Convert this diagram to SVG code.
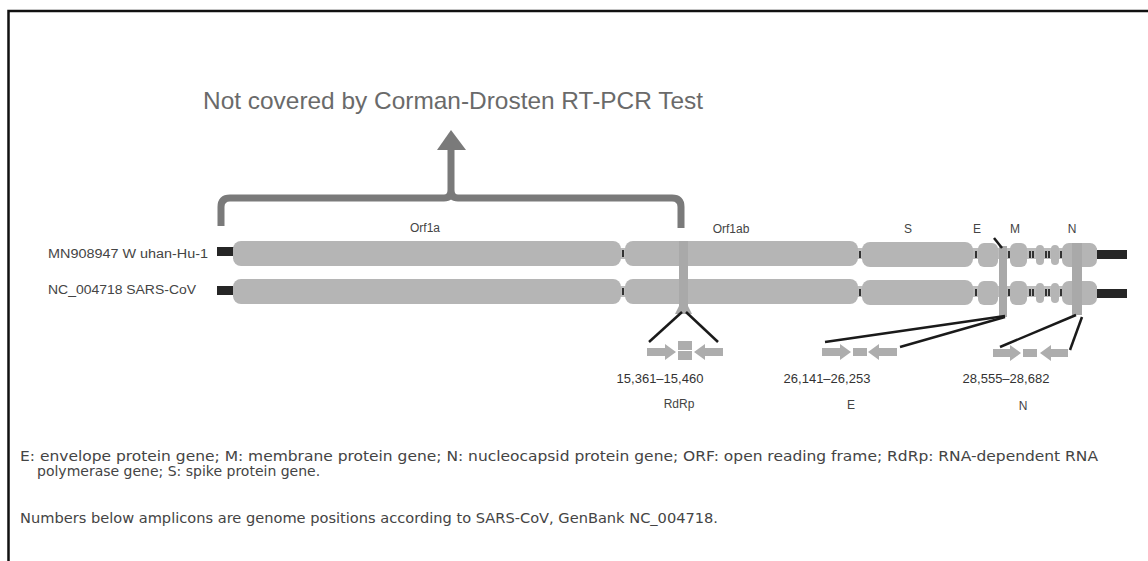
<svg xmlns="http://www.w3.org/2000/svg" width="1148" height="561" viewBox="0 0 1148 561">
<defs>
<style>
.t{font-family:"Liberation Sans",Arial,sans-serif;fill:#555}
.title{font-size:24px;fill:#6a6a6a}
.lab{font-size:12px;fill:#444}
.num{font-size:13px;fill:#333}
.foot{font-family:"DejaVu Sans","Liberation Sans",sans-serif;font-size:14px;fill:#444}
.blk{fill:#b5b5b5}
.band{fill:#bdbdbd}
.stub{fill:#262626}
.notch{stroke:#333;stroke-width:2}
.amp{fill:#a9a9a9}
.prim{fill:#adadad}
.conn{stroke:#1a1a1a;stroke-width:2.5;fill:none}
.brk{stroke:#7a7a7a;stroke-width:7;fill:none;stroke-linejoin:round}
</style>
</defs>
<rect width="1148" height="561" fill="#ffffff"/>
<g id="frame"><path d="M8.5 561 V11 H1148" fill="none" stroke="#111" stroke-width="2.5"/></g>

<g id="title"><text class="t title" x="203" y="109" textLength="500" lengthAdjust="spacingAndGlyphs">Not covered by Corman-Drosten RT-PCR Test</text></g>

<g id="bracket">
<path class="brk" d="M221 226 V207 Q221 198 230 198 H444 Q451 198 451 190 V150 M451 190 Q451 198 458 198 H672 Q681 198 681 207 V228"/>
<polygon points="437,150 451,130 466,150" fill="#7a7a7a"/>
</g>

<g id="gene-labels">
<text class="t lab" x="425" y="232" text-anchor="middle">Orf1a</text>
<text class="t lab" x="731" y="233" text-anchor="middle">Orf1ab</text>
<text class="t lab" x="908" y="233" text-anchor="middle">S</text>
<text class="t lab" x="977" y="233" text-anchor="middle">E</text>
<text class="t lab" x="1015" y="233" text-anchor="middle">M</text>
<text class="t lab" x="1072" y="233" text-anchor="middle">N</text>
</g>

<g id="row-wuhan">
<text class="t lab" x="48" y="258" textLength="160" lengthAdjust="spacingAndGlyphs">MN908947 W uhan-Hu-1</text>
<rect class="stub" x="217" y="247" width="17" height="9"/>
<rect class="band" x="233" y="248" width="864" height="11"/>
<rect class="blk" x="233" y="241" width="388" height="25" rx="8"/>
<rect class="blk" x="625" y="241" width="233" height="25" rx="8"/>
<rect class="blk" x="862" y="242" width="111" height="25" rx="8"/>
<rect class="blk" x="978" y="243" width="20" height="24" rx="6"/>
<rect class="blk" x="1010" y="243" width="17" height="24" rx="6"/>
<rect class="blk" x="1036" y="245" width="8" height="20" rx="4"/>
<rect class="blk" x="1051" y="245" width="8" height="20" rx="4"/>
<rect class="blk" x="1062" y="243" width="35" height="24" rx="7"/>
<rect class="stub" x="1097" y="250" width="30" height="9"/>
<g class="notch">
<line x1="623" y1="250" x2="623" y2="257"/><line x1="860" y1="251" x2="860" y2="258"/>
<line x1="976" y1="251" x2="976" y2="258"/><line x1="1009" y1="251" x2="1009" y2="258"/>
<line x1="1030" y1="251" x2="1030" y2="258"/><line x1="1033" y1="251" x2="1033" y2="258"/>
<line x1="1046" y1="251" x2="1046" y2="258"/><line x1="1049" y1="251" x2="1049" y2="258"/>
<line x1="1061" y1="251" x2="1061" y2="258"/>
</g>
</g>

<g id="row-sars">
<text class="t lab" x="48" y="294" textLength="148" lengthAdjust="spacingAndGlyphs">NC_004718 SARS-CoV</text>
<rect class="stub" x="217" y="286" width="17" height="9"/>
<rect class="band" x="233" y="286" width="864" height="11"/>
<rect class="blk" x="233" y="279" width="388" height="25" rx="8"/>
<rect class="blk" x="625" y="279" width="233" height="25" rx="8"/>
<rect class="blk" x="862" y="280" width="111" height="25" rx="8"/>
<rect class="blk" x="978" y="281" width="20" height="24" rx="6"/>
<rect class="blk" x="1010" y="281" width="17" height="24" rx="6"/>
<rect class="blk" x="1036" y="283" width="8" height="20" rx="4"/>
<rect class="blk" x="1051" y="283" width="8" height="20" rx="4"/>
<rect class="blk" x="1062" y="281" width="35" height="24" rx="7"/>
<rect class="stub" x="1097" y="289" width="30" height="9"/>
<g class="notch">
<line x1="623" y1="288" x2="623" y2="295"/><line x1="860" y1="289" x2="860" y2="296"/>
<line x1="976" y1="289" x2="976" y2="296"/><line x1="1009" y1="289" x2="1009" y2="296"/>
<line x1="1030" y1="289" x2="1030" y2="296"/><line x1="1033" y1="289" x2="1033" y2="296"/>
<line x1="1046" y1="289" x2="1046" y2="296"/><line x1="1049" y1="289" x2="1049" y2="296"/>
<line x1="1061" y1="289" x2="1061" y2="296"/>
</g>
</g>

<g id="amplicon-rdrp">
<rect class="amp" x="679" y="241" width="9" height="66"/>
<polygon class="amp" points="679,306 688,306 692,314 675,314"/>
<path class="prim" d="M647 348 H665 V344 L676 352 L665 360 V356 H647 Z"/>
<rect class="prim" x="678" y="341" width="14" height="9"/>
<rect class="prim" x="678" y="351" width="14" height="9"/>
<path class="prim" d="M723 348 H705 V344 L694 352 L705 360 V356 H723 Z"/>
<text class="t num" x="660" y="383" text-anchor="middle">15,361–15,460</text>
<text class="t lab" x="679" y="408" text-anchor="middle">RdRp</text>
</g>

<g id="amplicon-e">
<rect class="amp" x="999" y="246" width="8" height="71"/>
<path class="prim" d="M822 348 H840 V344 L851 352 L840 360 V356 H822 Z"/>
<rect class="prim" x="853" y="348" width="14" height="8"/>
<path class="prim" d="M897 348 H879 V344 L868 352 L879 360 V356 H897 Z"/>
<text class="t num" x="827" y="383" text-anchor="middle">26,141–26,253</text>
<text class="t lab" x="851" y="409" text-anchor="middle">E</text>
</g>

<g id="amplicon-n">
<rect class="amp" x="1072" y="243" width="10" height="72"/>
<path class="prim" d="M993 349 H1010 V345 L1021 353 L1010 361 V357 H993 Z"/>
<rect class="prim" x="1023" y="349" width="14" height="8"/>
<path class="prim" d="M1068 349 H1051 V345 L1040 353 L1051 361 V357 H1068 Z"/>
<text class="t num" x="1006" y="383" text-anchor="middle">28,555–28,682</text>
<text class="t lab" x="1023" y="410" text-anchor="middle">N</text>
</g>

<g id="connectors">
<line class="conn" x1="682" y1="312" x2="649" y2="342"/>
<line class="conn" x1="686" y1="312" x2="718" y2="342"/>
<line class="conn" x1="1005" y1="316" x2="825" y2="342"/>
<line class="conn" x1="1005" y1="317" x2="900" y2="347"/>
<line class="conn" x1="1076" y1="315" x2="1000" y2="347"/>
<line class="conn" x1="1082" y1="317" x2="1070" y2="350"/>
<line class="conn" x1="994" y1="238" x2="1002" y2="248"/>
</g>

<g id="footnote">
<text class="foot" x="20" y="461" textLength="1078" lengthAdjust="spacingAndGlyphs">E: envelope protein gene; M: membrane protein gene; N: nucleocapsid protein gene; ORF: open reading frame; RdRp: RNA-dependent RNA</text>
<text class="foot" x="37" y="476">polymerase gene; S: spike protein gene.</text>
<text class="foot" x="20" y="523" textLength="698" lengthAdjust="spacingAndGlyphs">Numbers below amplicons are genome positions according to SARS-CoV, GenBank NC_004718.</text>
</g>
</svg>
